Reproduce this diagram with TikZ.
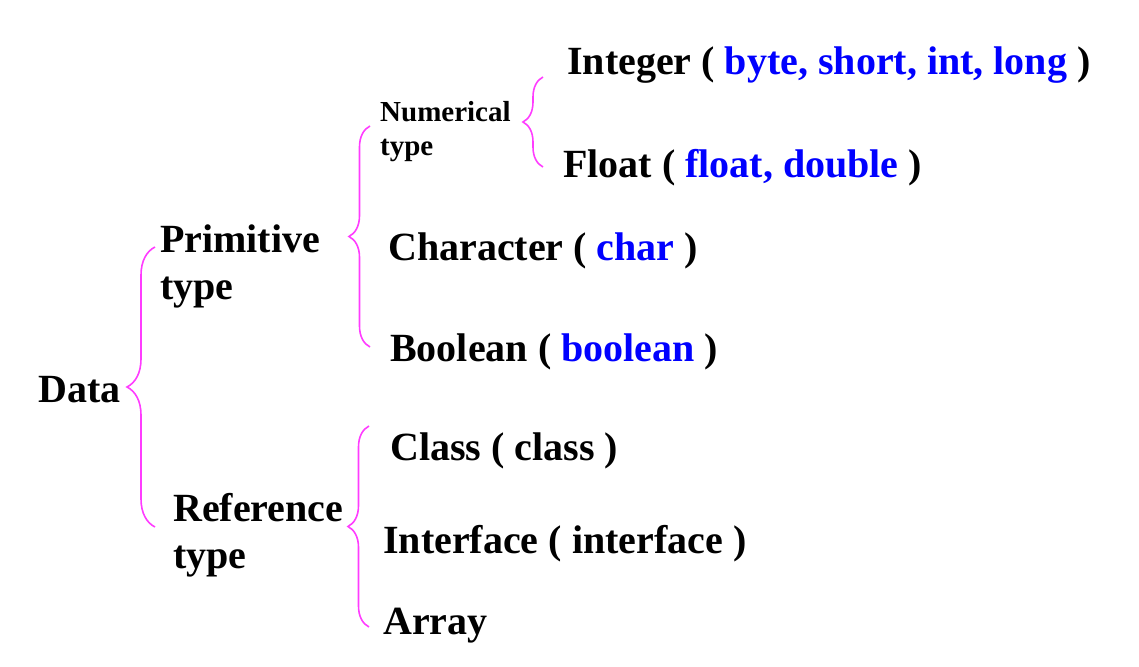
\documentclass[tikz,border=0pt]{standalone}
\usepackage{fontspec}
\setmainfont{Liberation Serif}
\usepackage{xcolor}
\usetikzlibrary{decorations.pathreplacing}
\definecolor{kwblue}{RGB}{0,0,255}
\definecolor{bracepink}{RGB}{255,60,255}
\newcommand\kw[1]{\textcolor{kwblue}{#1}}

\begin{document}
\begin{tikzpicture}[x=1pt, y=-1pt,
    label/.style={anchor=base west, inner sep=0pt, align=left, font=\bfseries\fontsize{40}{47}\selectfont},
    sublabel/.style={anchor=base west, inner sep=0pt, align=left, font=\bfseries\fontsize{29}{34}\selectfont},
    curly/.style={draw=bracepink, line width=1.6pt, decorate, decoration={brace, amplitude=#1}}]
    \useasboundingbox (0,0) rectangle (1139,666);

    \node[label] (data) at (38,402) {Data};
    \node[label] (prim) at (160,299) {Primitive\\type};
    \node[label] (ref) at (173,568) {Reference\\type};
    \node[sublabel] (num) at (380,155) {Numerical\\type};
    \node[label] (int) at (567,75) {Integer ( \kw{byte, short, int, long} )};
    \node[label] (flt) at (563,177) {Float ( \kw{float, double} )};
    \node[label] (chr) at (388,260) {Character ( \kw{char} )};
    \node[label] (bool) at (390,361) {Boolean ( \kw{boolean} )};
    \node[label] (cls) at (390,460) {Class ( class )};
    \node[label] (intf) at (383,553) {Interface ( interface )};
    \node[label] (arr) at (383,634) {Array};

    \coordinate (dataTop) at (155,247);
    \coordinate (dataBot) at (155,527);
    \coordinate (primTop) at (370,126);
    \coordinate (primBot) at (370,347);
    \coordinate (refTop) at (369,426);
    \coordinate (refBot) at (369,627);
    \coordinate (numTop) at (543,77);
    \coordinate (numBot) at (543,167);

    \draw[curly=28pt] (dataBot) -- (dataTop);
    \draw[curly=21pt] (primBot) -- (primTop);
    \draw[curly=21pt] (refBot) -- (refTop);
    \draw[curly=20pt] (numBot) -- (numTop);
\end{tikzpicture}
\end{document}
